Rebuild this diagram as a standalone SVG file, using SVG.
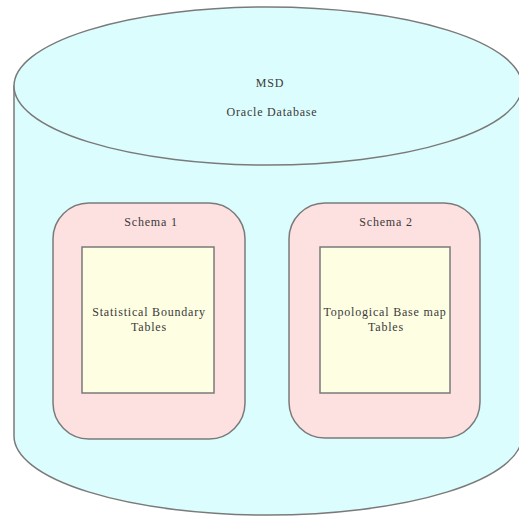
<svg xmlns="http://www.w3.org/2000/svg" width="519" height="517" viewBox="0 0 519 517">
<style>
.db{fill:#dcfdfd;stroke:#7a7a7a;stroke-width:1.5}
.schema{fill:#fde0e0;stroke:#7a7a7a;stroke-width:1.5}
.tbl{fill:#fefee2;stroke:#7a7a7a;stroke-width:1.5}
text{font-family:"Liberation Serif","Times New Roman",serif;font-size:12px;letter-spacing:0.8px;fill:#3a3a3a;text-anchor:middle}
</style>
<rect width="519" height="517" fill="#ffffff"/>
<g id="database">
<path class="db" d="M14,86 L14,436 A254,79 0 0 0 522,436 L522,86 Z"/>
<ellipse class="db" cx="268" cy="86" rx="254" ry="79"/>
<text x="270" y="87">MSD</text>
<text x="272" y="116">Oracle Database</text>
</g>
<g id="schema1">
<rect class="schema" x="53" y="203" width="192" height="236" rx="36" ry="36"/>
<text x="151" y="226">Schema 1</text>
</g>
<g id="tables1">
<rect class="tbl" x="82" y="247" width="132" height="146"/>
<text x="149" y="316">Statistical Boundary</text>
<text x="149" y="331">Tables</text>
</g>
<g id="schema2">
<rect class="schema" x="289" y="203" width="191" height="235" rx="36" ry="36"/>
<text x="386" y="226">Schema 2</text>
</g>
<g id="tables2">
<rect class="tbl" x="320" y="247" width="130" height="146"/>
<text x="385" y="316">Topological Base map</text>
<text x="386" y="331">Tables</text>
</g>
<g id="connectors"/>
</svg>
